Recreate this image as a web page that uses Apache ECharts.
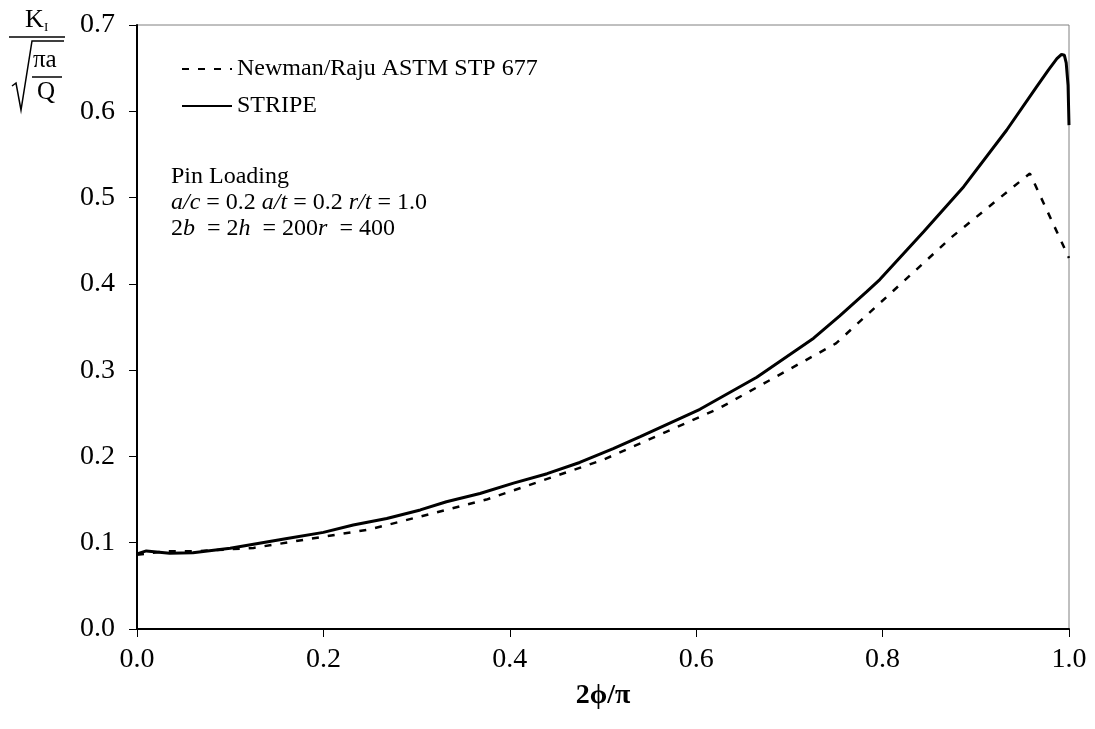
<!DOCTYPE html>
<html>
<head>
<meta charset="utf-8">
<script src="https://cdn.jsdelivr.net/npm/echarts@6/dist/echarts.min.js"></script>
<style>html,body{margin:0;padding:0;background:#fff;}#chart{width:1095px;height:729px;}</style>
</head>
<body>
<div id="chart"></div>
<script>
// Newman/Raju ASTM STP 677 (dashed)
const newmanX = [0.0, 0.03, 0.0625, 0.125, 0.25, 0.375, 0.5, 0.625, 0.75, 0.875, 0.958, 1.0];
const newmanY = [0.086, 0.090, 0.090, 0.094, 0.1155, 0.150, 0.196, 0.256, 0.331, 0.455, 0.528, 0.430];
// STRIPE (solid)
const stripeX = [0.0, 0.01, 0.035, 0.06, 0.1, 0.161, 0.2, 0.232, 0.268, 0.304, 0.332, 0.368, 0.404, 0.44, 0.475, 0.511, 0.54, 0.604, 0.665, 0.726, 0.754, 0.783, 0.797, 0.844, 0.887, 0.933, 0.965, 0.978, 0.987, 0.992, 0.995, 0.997, 0.999, 1.0];
const stripeY = [0.087, 0.0905, 0.0877, 0.0885, 0.0935, 0.105, 0.112, 0.1205, 0.128, 0.138, 0.1475, 0.157, 0.169, 0.180, 0.193, 0.209, 0.223, 0.2546, 0.2917, 0.337, 0.363, 0.391, 0.405, 0.4605, 0.5126, 0.578, 0.628, 0.648, 0.661, 0.666, 0.665, 0.656, 0.63, 0.584];
const xTicks = [0, 0.2, 0.4, 0.6, 0.8, 1.0];
const yTicks = [0, 0.1, 0.2, 0.3, 0.4, 0.5, 0.6, 0.7];
const seriesNames = ['Newman/Raju ASTM STP 677', 'STRIPE'];

const FONT = '"Liberation Serif", "Times New Roman", serif';
const chart = echarts.init(document.getElementById('chart'), null, {renderer: 'canvas'});

const pairs = (xs, ys) => xs.map((x, i) => [x, ys[i]]);

const option = {
  animation: false,
  backgroundColor: '#fff',
  grid: {left: 137, right: 26, top: 25, bottom: 100, show: true, borderColor: '#808080', borderWidth: 1, backgroundColor: 'transparent'},
  legend: {
    orient: 'vertical', left: 176, top: 52, itemWidth: 50, itemHeight: 14, itemGap: 13,
    itemStyle: {opacity: 0},
    textStyle: {fontFamily: FONT, fontSize: 24, color: '#000'},
    data: seriesNames
  },
  xAxis: {
    type: 'value', min: 0, max: 1, interval: 0.2,
    name: '2ϕ/π', nameLocation: 'middle', nameGap: 53,
    nameTextStyle: {fontFamily: FONT, fontSize: 28, fontWeight: 'bold', color: '#000'},
    axisLine: {show: true, onZero: false, lineStyle: {color: '#000', width: 2}},
    axisTick: {show: true, length: 8, lineStyle: {color: '#000', width: 1}},
    axisLabel: {fontFamily: FONT, fontSize: 28, color: '#000', margin: 17, formatter: v => v.toFixed(1)},
    splitLine: {show: false}
  },
  yAxis: {
    type: 'value', min: 0, max: 0.7, interval: 0.1,
    axisLine: {show: true, onZero: false, lineStyle: {color: '#000', width: 2}},
    axisTick: {show: true, length: 8, lineStyle: {color: '#000', width: 1}},
    axisLabel: {fontFamily: FONT, fontSize: 28, color: '#000', margin: 22, formatter: v => v.toFixed(1)},
    splitLine: {show: false}
  },
  series: [
    {
      name: seriesNames[0], type: 'line', data: pairs(newmanX, newmanY),
      showSymbol: false, symbol: 'none',
      lineStyle: {color: '#000', width: 2.5, type: [7, 9]},
      itemStyle: {color: '#000'}
    },
    {
      name: seriesNames[1], type: 'line', data: pairs(stripeX, stripeY),
      showSymbol: false, symbol: 'none',
      lineStyle: {color: '#000', width: 3},
      itemStyle: {color: '#000'}
    }
  ],
  graphic: [
    // Y-axis title: K_I / sqrt(pi a / Q)
    {type: 'text', left: 25, top: 7, style: {text: 'K', font: '26px ' + FONT, fill: '#000'}},
    {type: 'text', left: 44, top: 21, style: {text: 'I', font: '13px ' + FONT, fill: '#000'}},
    {type: 'line', shape: {x1: 9, y1: 37, x2: 65, y2: 37}, style: {stroke: '#000', lineWidth: 1.5}},
    {type: 'polyline', shape: {points: [[12, 86], [16, 83], [21, 110], [32, 41], [64, 41]]}, style: {stroke: '#000', lineWidth: 1.5, fill: null}},
    {type: 'text', left: 33, top: 48, style: {text: 'πa', font: '25px ' + FONT, fill: '#000'}},
    {type: 'line', shape: {x1: 32, y1: 77, x2: 62, y2: 77}, style: {stroke: '#000', lineWidth: 1.5}},
    {type: 'text', left: 37, top: 80, style: {text: 'Q', font: '25px ' + FONT, fill: '#000'}},
    // annotation
    {type: 'text', left: 171, top: 165, style: {text: 'Pin Loading', font: '24px ' + FONT, fill: '#000'}},
    {type: 'text', left: 171, top: 191, style: {
      text: '{i|a/c} = 0.2 {i|a/t} = 0.2 {i|r/t} = 1.0',
      font: '24px ' + FONT, fill: '#000',
      rich: {i: {fontStyle: 'italic', fontFamily: FONT, fontSize: 24, fill: '#000'}}
    }},
    {type: 'text', left: 171, top: 217, style: {
      text: '2{i|b}\u2002= 2{i|h}\u2002= 200{i|r}\u2002= 400',
      font: '24px ' + FONT, fill: '#000',
      rich: {i: {fontStyle: 'italic', fontFamily: FONT, fontSize: 24, fill: '#000'}}
    }}
  ]
};
chart.setOption(option);
</script>
</body>
</html>
